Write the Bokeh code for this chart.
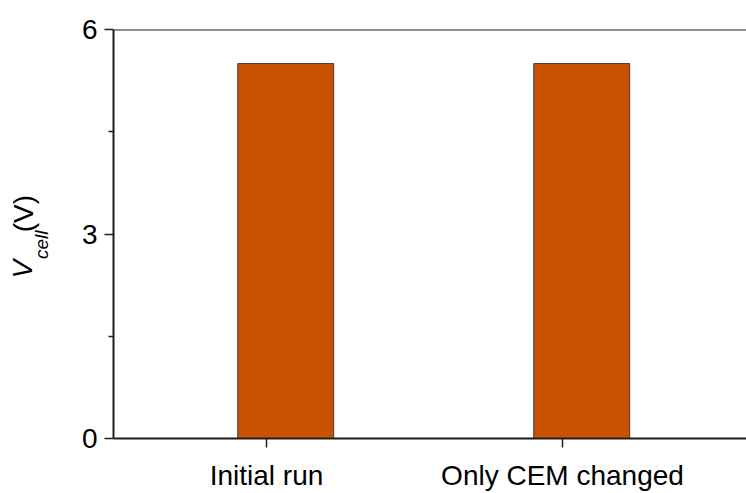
import math
from bokeh.plotting import figure
from bokeh.layouts import row
from bokeh.models import ColumnDataSource, Range1d, FixedTicker, Span
from bokeh.core.properties import value
from bokeh.transform import dodge
from bokeh.embed import file_html
from bokeh.resources import INLINE

categories = ["Initial run", "Only CEM changed"]
v_cell = [5.5, 5.5]
y_ticks = [0, 3, 6]
y_minor = [1.5, 4.5]
y_label_parts = ["V", "cell", "(V)"]

xpos = [i + 1 for i in range(len(categories))]
src = ColumnDataSource(dict(x=xpos, top=v_cell, name=categories))

FONT = "Liberation Sans"
AX = "#1e1e1e"
LW = 72  # width of the strip holding the y-axis title

# --- strip with the rotated y-axis title ---
t = figure(width=LW, height=493, output_backend="svg", toolbar_location=None,
           x_range=Range1d(0, LW), y_range=Range1d(493, 0),
           x_axis_location=None, y_axis_location=None,
           min_border=0, background_fill_color="white", border_fill_color="white")
t.outline_line_color = None
t.grid.visible = False
common = dict(angle=math.pi / 2, text_align="center", text_baseline="middle",
              text_font=value(FONT), text_color="black")
t.text(x=[22.3], y=[289], text=[y_label_parts[0]], text_font_size="28px",
       text_font_style="italic", **common)
t.text(x=[41.4], y=[259.5], text=[y_label_parts[1]], text_font_size="19px",
       text_font_style="italic", **common)
t.text(x=[23.3], y=[222], text=[y_label_parts[2]], text_font_size="28px", **common)

# --- main chart ---
p = figure(width=746 - LW, height=493, output_backend="svg", toolbar_location=None,
           x_range=Range1d(0.4831, 2.6216), y_range=Range1d(0, 6),
           min_border_top=29, min_border_left=113 - LW, min_border_right=0,
           min_border_bottom=55, background_fill_color="white",
           border_fill_color="white")
p.outline_line_color = None
p.xgrid.visible = False
p.ygrid.visible = False

p.vbar(x=dodge("x", 0.065), top="top", width=0.324, source=src,
       fill_color="#C85200", line_color="#3a3a3a", line_width=1)

p.add_layout(Span(location=6, dimension="width", line_color=AX, line_width=2))

xa = p.xaxis[0]
xa.ticker = FixedTicker(ticks=xpos, minor_ticks=[])
xa.major_label_overrides = {x: c for x, c in zip(xpos, categories)}
xa.major_tick_out = 9
xa.major_tick_in = 0
xa.minor_tick_out = 0
xa.major_label_standoff = 12
xa.axis_line_color = AX
xa.axis_line_width = 2
xa.major_tick_line_color = AX
xa.major_tick_line_width = 1.5
xa.major_label_text_font = FONT
xa.major_label_text_font_size = "28px"
xa.major_label_text_color = "black"

ya = p.yaxis[0]
ya.ticker = FixedTicker(ticks=y_ticks, minor_ticks=y_minor)
ya.major_tick_out = 9
ya.major_tick_in = 0
ya.minor_tick_out = 5
ya.minor_tick_in = 0
ya.major_label_standoff = 7
ya.axis_line_color = AX
ya.axis_line_width = 2
ya.major_tick_line_color = AX
ya.major_tick_line_width = 1.5
ya.minor_tick_line_color = AX
ya.minor_tick_line_width = 1.5
ya.major_label_text_font = FONT
ya.major_label_text_font_size = "28px"
ya.major_label_text_color = "black"

layout = row(t, p)
open("out.html", "w").write(file_html(layout, INLINE))
